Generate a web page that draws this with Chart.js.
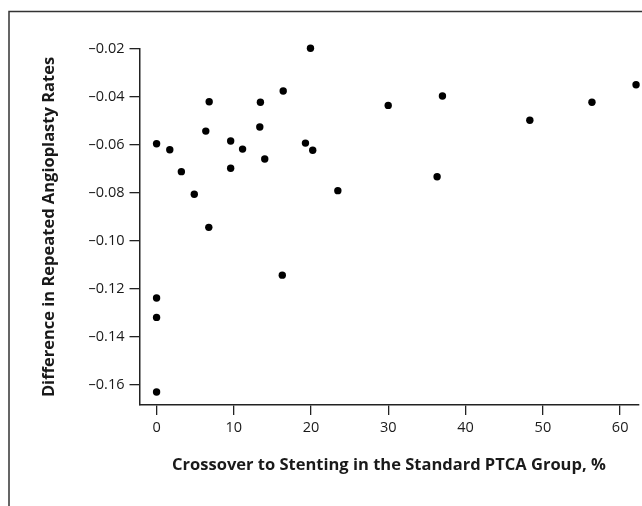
<!DOCTYPE html>
<html>
<head>
<meta charset="utf-8">
<script src="https://cdn.jsdelivr.net/npm/chart.js@4"></script>
<style>
  html, body { margin: 0; padding: 0; background: #fff; }
  canvas { display: block; }
</style>
</head>
<body>
<canvas id="c" width="642" height="506"></canvas>
<script>
// Crossover to stenting in the standard PTCA group, %
const crossoverPct = [0, 1.71, 3.21, 4.88, 6.37, 6.81, 6.76, 9.59, 9.59, 11.13,
  13.36, 13.44, 14.00, 16.39, 16.27, 19.27, 19.92, 20.21, 23.46, 29.98,
  36.31, 37.0, 48.31, 56.35, 62.06, 0, 0, 0];
// Difference in repeated angioplasty rates
const angioDiff = [-0.0595, -0.0620, -0.0711, -0.0805, -0.0542, -0.0420, -0.0943, -0.0583, -0.0697, -0.0617,
  -0.0525, -0.0422, -0.0658, -0.0375, -0.1142, -0.0592, -0.0197, -0.0622, -0.0790, -0.0435,
  -0.0732, -0.0396, -0.0497, -0.0422, -0.0349, -0.1237, -0.1318, -0.1629];
const xTicks = [0, 10, 20, 30, 40, 50, 60];
const yTicks = [-0.02, -0.04, -0.06, -0.08, -0.10, -0.12, -0.14, -0.16];
const xTitle = 'Crossover to Stenting in the Standard PTCA Group, %';
const yTitle = 'Difference in Repeated Angioplasty Rates';

const points = crossoverPct.map((x, i) => ({ x: x, y: angioDiff[i] }));

const framePlugin = {
  id: 'frame',
  beforeDraw(chart) {
    const ctx = chart.ctx;
    ctx.save();
    ctx.fillStyle = '#fff';
    ctx.fillRect(0, 0, chart.width, chart.height);
    ctx.strokeStyle = '#333';
    ctx.lineWidth = 1.5;
    ctx.beginPath();
    ctx.moveTo(9, chart.height);
    ctx.lineTo(9, 11.5);
    ctx.lineTo(chart.width, 11.5);
    ctx.stroke();
    ctx.restore();
  }
};

const tickFont = { family: "'Open Sans', sans-serif", size: 14.5 };
const titleFont = { family: "'Open Sans', sans-serif", size: 16.5, weight: 'bold' };

new Chart(document.getElementById('c'), {
  type: 'scatter',
  data: {
    datasets: [{
      data: points,
      backgroundColor: '#000',
      borderWidth: 0,
      pointRadius: 3.7,
      pointHoverRadius: 3.7,
      clip: false
    }]
  },
  plugins: [framePlugin],
  options: {
    responsive: false,
    animation: false,
    devicePixelRatio: 1,
    layout: { padding: { top: 49, left: 0, right: -4, bottom: 0 } },
    plugins: { legend: { display: false }, tooltip: { enabled: false } },
    scales: {
      x: {
        type: 'linear',
        min: -2.21,
        max: 62.35,
        afterBuildTicks: s => { s.ticks = xTicks.map(v => ({ value: v })); },
        afterFit: s => { s.height = 101; s.paddingRight = 0; s.paddingLeft = 0; },
        grid: { drawOnChartArea: false, drawTicks: true, tickLength: 10, color: '#222', lineWidth: 1.3 },
        border: { display: true, color: '#222', width: 1.5 },
        ticks: { color: '#1a1a1a', font: tickFont, padding: 4, maxRotation: 0, callback: v => String(v) },
        title: { display: true, text: xTitle, color: '#1a1a1a', font: titleFont, padding: { top: 0, bottom: 31 } }
      },
      y: {
        type: 'linear',
        min: -0.1683,
        max: -0.02,
        afterBuildTicks: s => { s.ticks = yTicks.map(v => ({ value: v })); },
        afterFit: s => { s.width = 139.5; },
        grid: { drawOnChartArea: false, drawTicks: true, tickLength: 10, color: '#222', lineWidth: 1.3 },
        border: { display: true, color: '#222', width: 1.5 },
        ticks: { color: '#1a1a1a', font: tickFont, padding: 5,
          callback: v => (v < 0 ? '\u2013' : '') + Math.abs(v).toFixed(2) },
        title: { display: true, text: yTitle, color: '#1a1a1a', font: titleFont, padding: { top: 39, bottom: 0 } }
      }
    }
  }
});
</script>
</body>
</html>
